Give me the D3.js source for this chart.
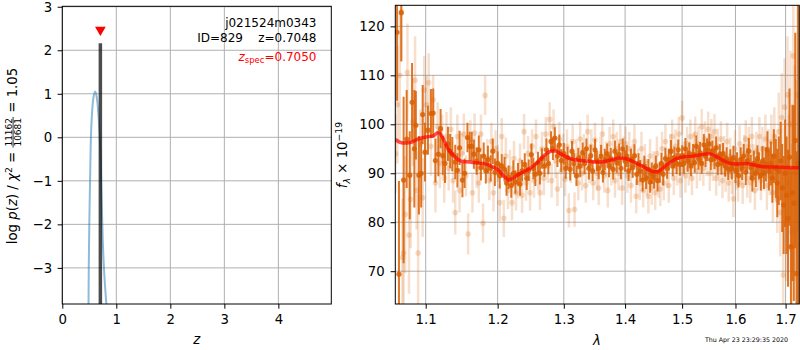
<!DOCTYPE html>
<html><head><meta charset="utf-8">
<script src="https://cdn.jsdelivr.net/npm/d3@7"></script>
<style>body{margin:0;background:#fff}svg text{font-family:"DejaVu Sans",sans-serif}</style>
</head><body><svg id="c" width="800" height="350"></svg>
<script>
// ---------- DATA ----------
const zTicks = [0,1,2,3,4];
const pzTicks = [-3,-2,-1,0,1,2,3];
const pzZ   = [0.485,0.49,0.50,0.514,0.53,0.55,0.57,0.59,0.61,0.63,0.65,0.67,0.69,0.71,0.73,0.75,0.78,0.82];
const pzLog = [-3.9,-3.0,-2.0,-1.0,0.0,0.55,0.85,1.0,1.05,0.98,0.8,0.5,0.1,-0.5,-1.5,-2.4,-3.2,-3.9];
const zBest = 0.7048, zBestTop = 2.16, zSpec = 0.7050, zSpecMark = 2.47;
const titleLines = ["j021524m0343", "ID=829    z=0.7048"];
const specText = "=0.7050";
const chi2Num = "11162", chi2Den = "10681", chi2Red = "1.05";
const lamTicks = [1.1,1.2,1.3,1.4,1.5,1.6,1.7];
const fluxTicks = [70,80,90,100,110,120];
const stamp = "Thu Apr 23 23:29:35 2020";

const darkLam = [1.0625,1.065,1.068,1.071,1.075,1.079,1.082,1.085,1.087,1.091,1.094,1.096,1.099,1.103,1.107,1.110,1.113,1.117,1.120,1.123,1.126,1.130,1.133,1.136,1.140,1.143,1.146,1.150,1.153,1.157,1.160,1.163,1.166,
1.170,1.173,1.176,1.180,1.183,1.186,1.190,1.193,1.196,
1.200,1.203,1.206,1.210,1.213,1.216,1.220,1.223,1.226,
1.230,1.233,1.236,1.240,1.243,1.246,1.250,1.253,1.256,
1.260,1.263,1.266,1.270,1.273,1.276,1.280,1.283,1.286,
1.290,1.293,1.296,1.300,1.303,1.306,1.310,1.313,1.316,
1.320,1.323,1.326,1.330,1.333,1.336,1.340,1.343,1.346,
1.350,1.353,1.356,1.360,1.363,1.366,1.370,1.373,1.376,
1.380,1.383,1.386,1.390,1.393,1.396,1.400,1.403,1.406,
1.410,1.413,1.416,1.420,1.423,1.426,1.430,1.433,1.436,
1.440,1.443,1.446,1.450,1.453,1.456,1.460,1.463,1.466,
1.470,1.473,1.476,1.480,1.483,1.486,1.490,1.493,1.496,
1.500,1.503,1.506,1.510,1.513,1.516,1.520,1.523,1.526,
1.530,1.533,1.536,1.540,1.543,1.546,1.550,1.553,1.556,
1.560,1.563,1.566,1.570,1.573,1.576,1.580,1.583,1.586,
1.590,1.593,1.596,1.600,1.603,1.606,1.610,1.613,1.616,
1.620,1.623,1.626,1.630,1.633,1.636,1.640,1.643,1.646,
1.650,1.653,1.656,1.660,1.663,1.666,1.670,1.673,1.676,
1.680,1.683,1.686,1.690,1.693,1.696,1.699,1.702,1.705,
1.708,1.711,1.714,1.717,1.720,1.723,1.726];
const darkFlux = [118.8,69.4,122.8,88.6,97.0,89.6,104.5,95.0,99.8,89.6,90.0,102.0,94.3,98.8,102.2,102.3,92.6,93.9,99.1,93.6,92.0,96.0,94.5,93.9,92.3,90.6,95.2,88.6,90.0,97.3,95.5,95.5,93.9,
92.5,94.8,91.2,93.5,90.5,92.8,91.0,94.5,90.2,
92.0,89.5,91.5,90.8,88.0,89.2,87.5,90.0,88.2,
89.8,87.8,90.5,91.8,89.0,90.6,93.8,91.0,89.8,
92.2,90.0,93.0,91.5,94.8,92.0,96.5,95.0,97.2,
93.5,95.8,92.6,94.0,91.0,93.2,90.8,94.5,92.0,
89.5,93.0,91.5,94.2,92.0,95.0,91.0,93.6,90.5,
94.8,92.5,91.0,93.5,90.2,92.8,94.0,91.5,93.0,
90.8,94.5,92.2,93.8,91.0,95.0,92.5,93.5,90.5,
92.8,91.2,93.6,89.8,92.0,90.5,88.6,91.5,89.0,
90.8,88.2,90.0,89.2,91.5,88.5,90.2,92.0,89.8,
93.0,91.0,92.8,94.5,91.5,93.2,92.0,94.8,91.8,
93.5,92.0,95.0,92.5,94.0,91.5,93.8,92.2,95.5,
93.0,94.2,92.0,95.8,93.5,94.8,96.0,92.8,94.5,
93.0,95.2,91.8,93.8,92.0,94.0,91.5,93.0,90.8,
92.5,91.0,93.2,90.5,92.0,89.5,92.8,91.0,93.5,
90.2,92.6,94.5,91.2,89.0,92.0,90.0,93.0,91.5,
89.5,92.5,90.0,91.8,94.8,90.5,92.0,89.0,93.5,
91.0,88.0,90.5,92.5,87.0,83.5,90.0,85.5,80.8,
93.3,75.0,86.0,83.9,96.7,69.5,92.0];
const darkErr = [14,19,10,17,10,9,8,12,7,8,7,6,6,5,5,5,4.5,4.5,4,4,4,3.5,3.5,3.5,3.5,3.5,3.5,3.5,3,3,3,3,3,
2.8,2.9,2.7,2.8,2.6,2.8,2.7,2.6,2.8,
2.5,2.6,2.4,2.5,2.6,2.4,2.5,2.6,2.4,
2.3,2.4,2.2,2.3,2.4,2.2,2.3,2.2,2.4,
2.2,2.3,2.1,2.2,2.3,2.2,2.1,2.3,2.2,
2.2,2.1,2.3,2.2,2.1,2.2,2.3,2.1,2.2,
2.1,2.2,2.3,2.1,2.2,2.1,2.3,2.2,2.1,
2.2,2.1,2.2,2.3,2.1,2.2,2.1,2.3,2.2,
2.1,2.2,2.1,2.3,2.2,2.1,2.2,2.2,2.1,
2.2,2.1,2.3,2.2,2.1,2.2,2.3,2.1,2.2,
2.1,2.2,2.2,2.3,2.1,2.2,2.1,2.2,2.3,
2.2,2.1,2.2,2.3,2.1,2.2,2.2,2.1,2.3,
2.2,2.1,2.2,2.2,2.3,2.1,2.2,2.1,2.2,
2.3,2.2,2.1,2.2,2.2,2.3,2.1,2.2,2.2,
2.2,2.3,2.2,2.1,2.3,2.2,2.2,2.3,2.2,
2.4,2.3,2.4,2.5,2.3,2.4,2.5,2.4,2.5,
2.6,2.5,2.7,2.6,2.7,2.6,2.8,2.7,2.8,
3.0,3.0,3.2,3.5,3.8,4.0,4.5,5.0,5.5,
6,7,7,8,9,10,11,12,14,
14,16,18,20,22,25,35];

const lightLam = [1.0605,1.063,1.066,1.068,1.0695,1.071,1.073,1.076,1.078,1.080,1.083,1.086,1.088,1.090,1.093,1.096,1.098,
1.101,1.104,1.107,1.110,1.113,1.116,1.119,1.122,1.125,1.128,
1.131,1.134,1.137,1.140,1.143,1.146,1.149,1.152,1.155,1.158,
1.161,1.164,1.167,1.170,1.173,1.176,1.179,1.182,1.185,1.188,
1.191,1.194,1.197,1.200,1.203,1.206,1.209,1.212,1.215,1.218,
1.221,1.224,1.227,1.230,1.233,1.236,1.239,1.242,1.245,1.248,
1.251,1.254,1.257,1.260,1.263,1.266,1.269,1.272,1.275,1.278,
1.281,1.284,1.287,1.290,1.293,1.296,1.299,1.302,1.305,1.308,
1.311,1.314,1.317,1.320,1.323,1.326,1.329,1.332,1.335,1.338,
1.341,1.344,1.347,1.350,1.353,1.356,1.359,1.362,1.365,1.368,
1.371,1.374,1.377,1.380,1.383,1.386,1.389,1.392,1.395,1.398,
1.401,1.404,1.407,1.410,1.413,1.416,1.419,1.422,1.425,1.428,
1.431,1.434,1.437,1.440,1.443,1.446,1.449,1.452,1.455,1.458,
1.461,1.464,1.467,1.470,1.473,1.476,1.479,1.482,1.485,1.488,
1.491,1.494,1.497,1.500,1.503,1.506,1.509,1.512,1.515,1.518,
1.521,1.524,1.527,1.530,1.533,1.536,1.539,1.542,1.545,1.548,
1.551,1.554,1.557,1.560,1.563,1.566,1.569,1.572,1.575,1.578,
1.581,1.584,1.587,1.590,1.593,1.596,1.599,1.602,1.605,1.608,
1.611,1.614,1.617,1.620,1.623,1.626,1.629,1.632,1.635,1.638,
1.641,1.644,1.647,1.650,1.653,1.656,1.659,1.662,1.665,1.668,
1.671,1.674,1.677,1.680,1.683,1.686,1.689,1.692,1.695,1.698,
1.701,1.704,1.707,1.710,1.713,1.716,1.719,1.722,1.725,1.728];
const lightFlux = [94.0,104.0,110.0,123.0,72.8,73.7,81.6,110.6,77.4,84.7,100.5,109.0,86.5,73.7,96.0,85.0,107.0,
104.0,108.5,95.5,105.0,88.0,99.5,92.0,97.0,89.0,97.5,
91.0,99.0,88.5,82.0,97.5,86.5,94.0,98.0,89.5,77.6,
96.8,86.0,98.2,91.0,88.0,98.0,79.8,105.9,93.0,88.5,
96.5,86.0,95.0,92.0,84.0,97.5,80.8,93.5,86.5,91.0,
84.0,93.0,86.0,88.5,92.5,85.5,98.5,88.0,94.0,86.0,
95.5,88.5,97.5,90.0,86.0,95.0,89.0,98.0,91.5,101.0,
88.5,99.5,92.5,86.8,97.0,90.5,94.5,88.8,95.5,82.4,
91.5,96.5,82.6,93.5,88.0,97.0,90.0,94.5,87.5,98.5,
91.5,95.5,88.0,96.8,90.0,87.0,94.0,98.0,89.5,93.0,
86.5,96.0,91.0,97.5,88.5,95.0,90.0,96.5,87.0,94.0,
96.0,89.5,95.0,87.5,92.5,96.5,85.3,91.5,88.0,95.0,
86.5,92.5,89.0,85.3,93.5,87.0,91.0,86.0,94.0,88.5,
86.8,95.0,88.0,96.5,90.5,87.5,94.5,97.5,89.0,95.5,
91.0,98.0,88.5,101.3,93.0,89.5,96.0,91.0,97.5,89.0,
94.5,98.0,90.5,96.0,92.0,99.5,91.0,97.0,93.0,99.0,
90.0,97.5,92.0,98.5,89.0,95.5,91.0,97.0,88.5,94.0,
90.0,96.5,88.0,93.5,89.5,84.8,95.0,90.5,88.0,96.0,
91.5,87.5,94.0,97.0,89.0,95.5,88.0,97.5,92.0,86.5,
94.5,90.5,97.5,88.5,95.0,91.0,97.0,87.5,94.0,90.5,
96.5,86.0,97.5,91.0,84.8,98.5,82.0,101.4,69.2,103.5,
80.0,106.0,88.0,100.0,78.0,114.0,90.0,84.0,106.0,93.0];
const lightErr = [8,12,13,10,12,15,12,10,12,10,9,9,8,12,7,8,7,
6,6,6,5,6,5,5,5,5,5,
4.5,4.5,4.5,4.5,4.5,4.5,4.2,4.2,4.2,4.2,
4,4,4,4,4,4,4,4,4,4,
3.8,3.8,3.8,3.8,3.8,3.8,3.8,3.8,3.8,3.8,
3.6,3.6,3.6,3.6,3.6,3.6,3.6,3.6,3.6,3.6,
3.5,3.5,3.5,3.5,3.5,3.5,3.5,3.5,3.5,3.5,
3.5,3.5,3.5,3.5,3.5,3.5,3.5,3.5,3.5,3.5,
3.5,3.5,3.5,3.5,3.5,3.5,3.5,3.5,3.5,3.5,
3.5,3.5,3.5,3.5,3.5,3.5,3.5,3.5,3.5,3.5,
3.5,3.5,3.5,3.5,3.5,3.5,3.5,3.5,3.5,3.5,
3.5,3.5,3.5,3.5,3.5,3.5,3.5,3.5,3.5,3.5,
3.5,3.5,3.5,3.5,3.5,3.5,3.5,3.5,3.5,3.5,
3.5,3.5,3.5,3.5,3.5,3.5,3.5,3.5,3.5,3.5,
3.5,3.5,3.5,3.5,3.5,3.5,3.5,3.5,3.5,3.5,
3.6,3.6,3.6,3.6,3.6,3.6,3.6,3.6,3.6,3.6,
3.6,3.6,3.6,3.6,3.6,3.6,3.6,3.6,3.6,3.6,
3.8,3.8,3.8,3.8,3.8,3.8,3.8,3.8,3.8,3.8,
3.8,3.8,3.8,3.8,4,4,4,4,4,4,
4,4,4,4,4.5,4.5,5,5,5,5,
5.5,6,6,7,7,8,9,9,10,10,
12,12,14,15,18,18,22,25,28,30];

const modelLam = [1.0603,1.07,1.08,1.09,1.10,1.11,1.117,1.122,1.13,1.14,1.15,1.16,1.17,1.18,1.19,1.20,1.21,1.216,1.22,1.23,1.24,1.25,1.26,1.27,1.28,1.287,1.29,1.30,1.31,1.32,1.33,1.34,1.35,1.36,1.37,1.38,1.39,1.40,1.41,1.42,1.43,1.44,1.45,1.455,1.46,1.47,1.48,1.49,1.50,1.52,1.54,1.55,1.56,1.57,1.58,1.59,1.60,1.62,1.64,1.66,1.68,1.70,1.7284];
const modelFlux = [96.9,96.2,96.3,97.0,97.4,97.6,98.4,97.5,95.0,93.3,92.4,92.3,92.1,92.0,91.5,90.8,89.3,88.6,88.8,89.7,90.4,91.2,92.3,93.7,94.5,94.6,94.4,93.6,93.0,92.7,92.6,92.5,92.3,92.3,92.5,92.8,93.1,93.0,92.6,92.0,91.4,90.8,90.3,90.3,90.6,91.5,92.3,93.0,93.3,93.5,93.9,94.0,93.6,93.0,92.4,92.0,91.9,92.0,91.6,91.3,91.3,91.2,91.1];

// ---------- DRAW ----------
const svg = d3.select('#c');
const FS = 13.3, GRID = '#b0b0b0', ORANGE = '#d95f02';
const defs = svg.append('defs');

function styleAxis(g){
  g.select('.domain').remove();
  g.selectAll('.tick line').attr('stroke','#000').attr('stroke-width',1);
  g.selectAll('.tick text').attr('font-size',FS+'px').attr('fill','#000').attr('font-family','DejaVu Sans');
}

// ===== Left panel =====
const L = {x0:62.3, x1:331.3, y0:6.3, y1:304};
const Lx = d3.scaleLinear().domain([0,4.98]).range([L.x0,L.x1]);
const Ly = d3.scaleLinear().domain([-3.83,3.01]).range([L.y1,L.y0]);
defs.append('clipPath').attr('id','clipL').append('rect').attr('x',L.x0).attr('y',L.y0).attr('width',L.x1-L.x0).attr('height',L.y1-L.y0);

const gL = svg.append('g');
gL.selectAll('.gx').data(zTicks).join('line').attr('x1',d=>Lx(d)).attr('x2',d=>Lx(d)).attr('y1',L.y0).attr('y2',L.y1).attr('stroke',GRID).attr('stroke-width',1);
gL.selectAll('.gy').data(pzTicks).join('line').attr('y1',d=>Ly(d)).attr('y2',d=>Ly(d)).attr('x1',L.x0).attr('x2',L.x1).attr('stroke',GRID).attr('stroke-width',1);

const gLd = gL.append('g').attr('clip-path','url(#clipL)');
const pz = pzZ.map((z,i)=>[z,pzLog[i]]);
gLd.append('path').datum(pz).attr('d',d3.line().x(d=>Lx(d[0])).y(d=>Ly(d[1])).curve(d3.curveCatmullRom))
  .attr('fill','none').attr('stroke','#1f77b4').attr('stroke-opacity',0.5).attr('stroke-width',2);
gLd.append('line').attr('x1',Lx(zBest)).attr('x2',Lx(zBest)).attr('y1',Ly(-3.83)).attr('y2',Ly(zBestTop))
  .attr('stroke','#000').attr('stroke-opacity',0.7).attr('stroke-width',3.5);
gL.append('path').attr('d',d3.symbol(d3.symbolTriangle,50)()).attr('transform',`translate(${Lx(zSpec)},${Ly(zSpecMark)}) rotate(180)`).attr('fill','red');

gL.append('g').attr('transform',`translate(0,${L.y1})`).call(d3.axisBottom(Lx).tickValues(zTicks).tickFormat(d3.format('d')).tickSize(4.7).tickPadding(6)).call(styleAxis);
gL.append('g').attr('transform',`translate(${L.x0},0)`).call(d3.axisLeft(Ly).tickValues(pzTicks).tickFormat(d3.format('d')).tickSize(4.7).tickPadding(5.5)).call(styleAxis);
gL.append('rect').attr('x',L.x0).attr('y',L.y0).attr('width',L.x1-L.x0).attr('height',L.y1-L.y0).attr('fill','none').attr('stroke','#000').attr('stroke-width',1);

// title text
const tx = 316.5;
gL.append('text').attr('x',tx).attr('y',27.3).attr('text-anchor','end').attr('font-size','12px').text(titleLines[0]);
gL.append('text').attr('x',tx).attr('y',41.7).attr('text-anchor','end').attr('font-size','12px').style('white-space','pre').text(titleLines[1]);
const sp = gL.append('text').attr('x',tx).attr('y',60.5).attr('text-anchor','end').attr('font-size','12px').attr('fill','red');
sp.append('tspan').attr('font-style','italic').text('z');
sp.append('tspan').attr('font-size','8.5px').attr('dy',2.5).text('spec');
sp.append('tspan').attr('dy',-2.5).text(specText);

// x label
gL.append('text').attr('x',Lx(2.49)).attr('y',344).attr('text-anchor','middle').attr('font-size',FS+'px').attr('font-style','italic').text('z');

// y label (rotated, with fraction)
const yl = svg.append('g').attr('transform','translate(16.5,156) rotate(-90)');
const t1 = yl.append('text').attr('font-size',FS+'px').style('white-space','pre');
t1.append('tspan').text('log ');
t1.append('tspan').attr('font-style','italic').text('p');
t1.append('tspan').text('(');
t1.append('tspan').attr('font-style','italic').text('z');
t1.append('tspan').text(') / ');
t1.append('tspan').attr('font-style','italic').text('χ');
t1.append('tspan').attr('font-size','9.3px').attr('dy',-5).text('2');
t1.append('tspan').attr('dy',5).text(' = ');
const w1 = t1.node().getComputedTextLength();
const fn = yl.append('text').attr('font-size','9px').attr('y',-4.8).attr('text-anchor','middle').text(chi2Num);
const fd = yl.append('text').attr('font-size','9px').attr('y',4.6).attr('text-anchor','middle').text(chi2Den);
const wf = Math.max(fn.node().getComputedTextLength(), fd.node().getComputedTextLength()) + 2;
fn.attr('x', w1 + wf/2); fd.attr('x', w1 + wf/2);
yl.append('line').attr('x1',w1).attr('x2',w1+wf).attr('y1',-3.4).attr('y2',-3.4).attr('stroke','#000').attr('stroke-width',0.8);
const t3 = yl.append('text').attr('font-size',FS+'px').attr('x',w1+wf).style('white-space','pre').text(' = ' + chi2Red);
const wTot = w1 + wf + t3.node().getComputedTextLength();
yl.selectAll('text,line').attr('transform',`translate(${-wTot/2},0)`);

// ===== Right panel =====
const R = {x0:395.3, x1:799.3, y0:5.3, y1:304};
const Rx = d3.scaleLog().domain([1.0603,1.7284]).range([R.x0,R.x1]);
const Ry = d3.scaleLinear().domain([63.3,124.3]).range([R.y1,R.y0]);
defs.append('clipPath').attr('id','clipR').append('rect').attr('x',R.x0).attr('y',R.y0).attr('width',R.x1-R.x0).attr('height',R.y1-R.y0);

const gR = svg.append('g');
gR.selectAll('.gx').data(lamTicks).join('line').attr('x1',d=>Rx(d)).attr('x2',d=>Rx(d)).attr('y1',R.y0).attr('y2',R.y1).attr('stroke',GRID).attr('stroke-width',1);
gR.selectAll('.gy').data(fluxTicks).join('line').attr('y1',d=>Ry(d)).attr('y2',d=>Ry(d)).attr('x1',R.x0).attr('x2',R.x1).attr('stroke',GRID).attr('stroke-width',1);

const gRd = gR.append('g').attr('clip-path','url(#clipR)');
const light = lightLam.map((l,i)=>({l, f:lightFlux[i], e:lightErr[i]}));
const dark = darkLam.map((l,i)=>({l, f:darkFlux[i], e:darkErr[i]}));

const gLight = gRd.append('g');
gLight.selectAll('line').data(light).join('line')
  .attr('x1',d=>Rx(d.l)).attr('x2',d=>Rx(d.l)).attr('y1',d=>Ry(d.f-d.e)).attr('y2',d=>Ry(d.f+d.e))
  .attr('stroke',ORANGE).attr('stroke-opacity',0.2).attr('stroke-width',2.5);
gLight.selectAll('circle').data(light).join('circle')
  .attr('cx',d=>Rx(d.l)).attr('cy',d=>Ry(d.f)).attr('r',2.8).attr('fill',ORANGE).attr('fill-opacity',0.22);

const gDark = gRd.append('g');
gDark.selectAll('line').data(dark).join('line')
  .attr('x1',d=>Rx(d.l)).attr('x2',d=>Rx(d.l)).attr('y1',d=>Ry(d.f-d.e)).attr('y2',d=>Ry(d.f+d.e))
  .attr('stroke',ORANGE).attr('stroke-opacity',0.85).attr('stroke-width',2);
gDark.selectAll('circle').data(dark).join('circle')
  .attr('cx',d=>Rx(d.l)).attr('cy',d=>Ry(d.f)).attr('r',2.6).attr('fill',ORANGE).attr('fill-opacity',0.85);

const model = modelLam.map((l,i)=>[l,modelFlux[i]]);
gRd.append('path').datum(model).attr('d',d3.line().x(d=>Rx(d[0])).y(d=>Ry(d[1])).curve(d3.curveMonotoneX))
  .attr('fill','none').attr('stroke','red').attr('stroke-opacity',0.7).attr('stroke-width',3.5);

gR.append('g').attr('transform',`translate(0,${R.y1})`).call(d3.axisBottom(Rx).tickValues(lamTicks).tickFormat(d3.format('.1f')).tickSize(4.7).tickPadding(6)).call(styleAxis);
gR.append('g').attr('transform',`translate(${R.x0},0)`).call(d3.axisLeft(Ry).tickValues(fluxTicks).tickFormat(d3.format('d')).tickSize(4.7).tickPadding(6)).call(styleAxis);
gR.append('rect').attr('x',R.x0).attr('y',R.y0).attr('width',R.x1-R.x0).attr('height',R.y1-R.y0).attr('fill','none').attr('stroke','#000').attr('stroke-width',1);

gR.append('text').attr('x',597).attr('y',345).attr('text-anchor','middle').attr('font-size',FS+'px').attr('font-style','italic').text('λ');

const yr = svg.append('g').attr('transform','translate(347,155) rotate(-90)');
const tr = yr.append('text').attr('font-size',FS+'px').attr('text-anchor','middle');
tr.append('tspan').attr('font-style','italic').text('f');
tr.append('tspan').attr('font-style','italic').attr('font-size','9.3px').attr('dy',3).text('λ');
tr.append('tspan').attr('dy',-3).style('white-space','pre').text(' × 10');
tr.append('tspan').attr('font-size','9.3px').attr('dy',-5.5).text('−19');

svg.append('text').attr('x',788).attr('y',341.5).attr('text-anchor','end').attr('font-size','6.3px').text(stamp);
</script></body></html>
